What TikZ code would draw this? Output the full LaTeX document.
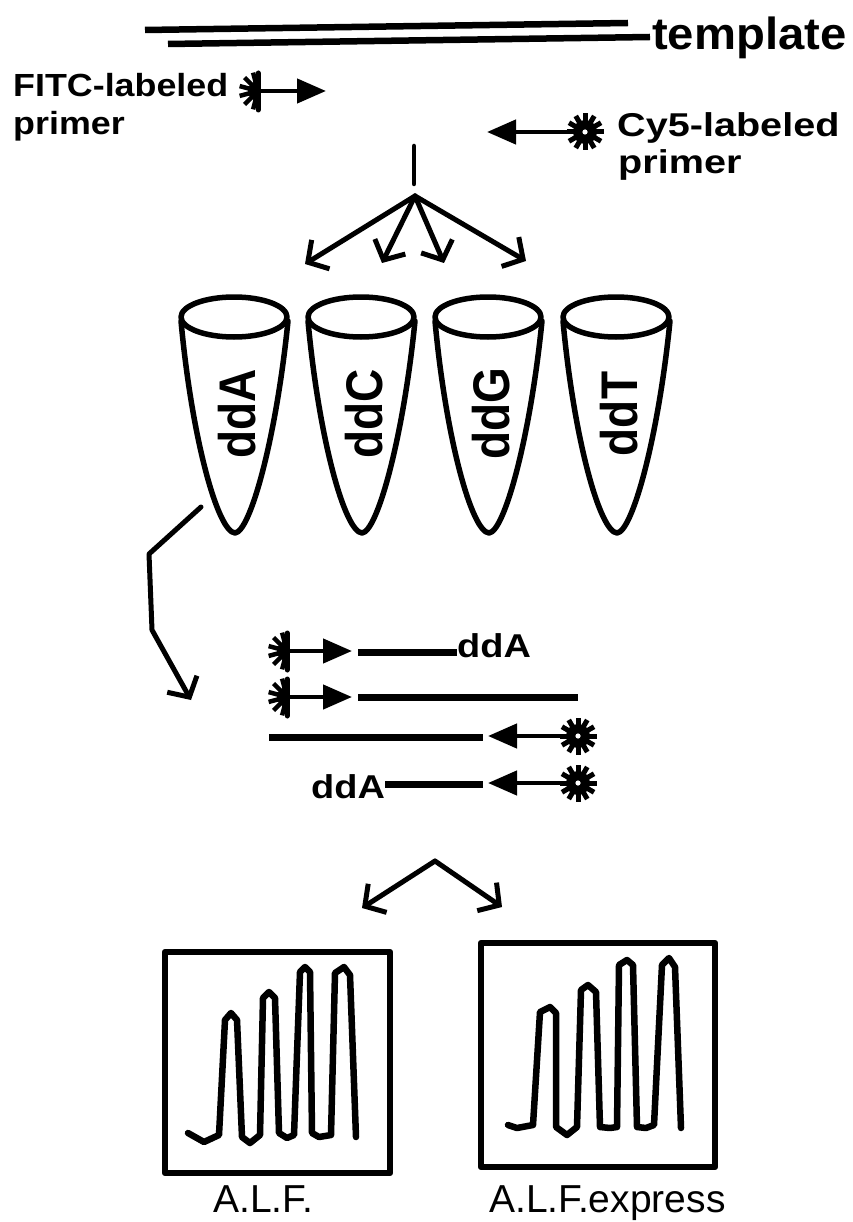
\documentclass[tikz,border=0pt]{standalone}
\usepackage{fontspec}
\setmainfont{Liberation Sans}
\usetikzlibrary{arrows.meta}
\newcommand{\hwide}[2]{\scalebox{#1}[1]{#2}}
\newcommand{\vwide}[2]{\scalebox{1}[#1]{#2}}
\begin{document}
\begin{tikzpicture}[x=1pt,y=-1pt,line cap=round,line join=round,
  lbl/.style={font=\bfseries\fontsize{33}{38}\selectfont,inner sep=0pt,anchor=base west},
  tubelbl/.style={font=\bfseries\fontsize{46}{50}\selectfont,inner sep=0pt,rotate=90},
  instr/.style={font=\fontsize{39}{42}\selectfont,inner sep=0pt,anchor=base west},
  tline/.style={line width=6.5pt,line cap=butt},
  strand/.style={line width=7pt,line cap=butt},
  shaft/.style={line width=4.5pt,-{Triangle[length=29pt,width=24pt]}},
  flow/.style={line width=5pt,-{Straight Barb[length=15pt,width=34pt]}},
  tubeline/.style={line width=5.5pt},
  boxline/.style={line width=6.5pt},
  trace/.style={line width=6.5pt},
  fitc/.pic={
    \begin{scope}
      \clip (-25,-25) rectangle (0,25);
      \fill (0,0) circle[radius=10pt];
    \end{scope}
    \foreach \a in {105,135,165,195,225,255}
      \draw[line width=4.5pt,line cap=butt] (0,0) -- (\a:19);
    \draw[line width=5pt] (0,-18) -- (0,19);
  },
  cyfive/.pic={
    \fill (0,0) circle[radius=12pt];
    \foreach \a in {0,30,...,330}
      \draw[line width=5pt,line cap=butt] (0,0) -- (\a:18.5);
    \fill[white] (0,0) circle[radius=2.6pt];
  }
]
\fill[white] (0,0) rectangle (852,1222);
\useasboundingbox (0,0) rectangle (852,1222);

% ---------- template ----------
\node[lbl,font=\bfseries\fontsize{45}{50}\selectfont] (tmpl) at (652,50) {\hwide{1.05}{template}};
\coordinate (t1a) at (145,30);
\coordinate (t1b) at (628,23);
\coordinate (t2a) at (168,44);
\coordinate (t2b) at (650,37);
\draw[tline] (t1a) -- (t1b);
\draw[tline] (t2a) -- (t2b);

% ---------- primers ----------
\node[lbl,font=\bfseries\fontsize{32}{38}\selectfont] (fitcA) at (13,97) {\hwide{1.12}{FITC-labeled}};
\node[lbl,font=\bfseries\fontsize{32}{38}\selectfont] (fitcB) at (13,135) {\hwide{1.12}{primer}};
\coordinate (fs) at (258,91);
\coordinate (ft) at (326,91);
\draw[shaft] (fs) -- (ft);
\pic at (fs) {fitc};

\node[lbl] (cyA) at (617,137) {\hwide{1.2}{Cy5-labeled}};
\node[lbl] (cyB) at (618,174) {\hwide{1.2}{primer}};
\coordinate (cs) at (585,132);
\coordinate (ct) at (487,132);
\draw[shaft] (cs) -- (ct);
\pic at (cs) {cyfive};

% ---------- split ----------
\coordinate (v1) at (414,146);
\coordinate (v2) at (414,184);
\draw[line width=4.5pt] (v1) -- (v2);
\coordinate (fo) at (415,196);
\coordinate (f1) at (305,264);
\coordinate (f2) at (382,263);
\coordinate (f3) at (444,263);
\coordinate (f4) at (526,261);
\foreach \f in {f1,f2,f3,f4} \draw[flow] (fo) -- (\f);

% ---------- tubes ----------
\foreach \cx/\nm/\t in {234/tA/ddA,361/tC/ddC,488/tG/ddG,616/tT/ddT}{
  \draw[tubeline] (\cx,317) ellipse[x radius=53pt,y radius=20pt];
  \draw[tubeline] (\cx-53,321) .. controls (\cx-42,440) and (\cx-16,532) .. (\cx+1,533)
     .. controls (\cx+16,532) and (\cx+42,440) .. (\cx+54,321);
  \node[tubelbl] (\nm) at (\cx+3,414) {\vwide{1.12}{\t}};
}

% ---------- bent arrow ----------
\coordinate (b0) at (201,507);
\coordinate (b1) at (149,554);
\coordinate (b2) at (152,630);
\coordinate (b3) at (191,700);
\draw[flow] (b0) -- (b1) -- (b2) -- (b3);

% ---------- products ----------
% row 1
\coordinate (r1s) at (287,651);
\coordinate (r1t) at (352,651);
\draw[shaft] (r1s) -- (r1t);
\pic at (r1s) {fitc};
\node[lbl] (dd1) at (457,657) {\hwide{1.15}{ddA}};
\coordinate (r1a) at (358,652);
\draw[strand] (r1a) -- (dd1.west |- r1a);
% row 2
\coordinate (r2s) at (287,697);
\coordinate (r2t) at (352,697);
\coordinate (r2a) at (358,697);
\coordinate (r2b) at (578,697);
\draw[shaft] (r2s) -- (r2t);
\pic at (r2s) {fitc};
\draw[strand] (r2a) -- (r2b);
% row 3
\coordinate (r3a) at (269,737);
\coordinate (r3b) at (483,737);
\coordinate (r3s) at (578,736);
\coordinate (r3t) at (488,736);
\draw[strand] (r3a) -- (r3b);
\draw[shaft] (r3s) -- (r3t);
\pic at (r3s) {cyfive};
% row 4
\node[lbl] (dd4) at (311,798) {\hwide{1.15}{ddA}};
\coordinate (r4b) at (483,784);
\coordinate (r4s) at (578,783);
\coordinate (r4t) at (488,783);
\draw[strand] (dd4.east |- r4b) -- (r4b);
\draw[shaft] (r4s) -- (r4t);
\pic at (r4s) {cyfive};

% ---------- branch ----------
\coordinate (ap) at (435,861);
\coordinate (bl) at (362,908);
\coordinate (br) at (502,907);
\draw[flow] (ap) -- (bl);
\draw[flow] (ap) -- (br);

% ---------- instruments ----------
\draw[boxline] (165,952) rectangle (390,1173);
\draw[boxline] (481,943) rectangle (715,1167);

\draw[trace] (188,1133) -- (204,1142) -- (219,1135) -- (225,1020) -- (231,1013) -- (237,1020)
  -- (242,1137) -- (250,1143) -- (260,1135) -- (263,998) -- (269,992) -- (275,998)
  -- (279,1133) -- (287,1138) -- (294,1135) -- (300,972) -- (305,967) -- (310,972)
  -- (312,1133) -- (319,1137) -- (331,1135) -- (335,973) -- (344,967) -- (350,975)
  -- (356,1137);

\draw[trace] (508,1125) -- (517,1128) -- (533,1125) -- (540,1012) -- (550,1007) -- (556,1013)
  -- (556,1127) -- (567,1135) -- (577,1127) -- (581,990) -- (588,985) -- (596,992)
  -- (600,1127) -- (610,1128) -- (617,1127) -- (619,965) -- (627,960) -- (633,965)
  -- (637,1127) -- (646,1128) -- (654,1125) -- (662,965) -- (669,958) -- (675,967)
  -- (681,1128);

\node[instr] (alf) at (213,1212) {A.L.F.};
\node[instr] (alfx) at (489,1212) {A.L.F.express};
\end{tikzpicture}
\end{document}
